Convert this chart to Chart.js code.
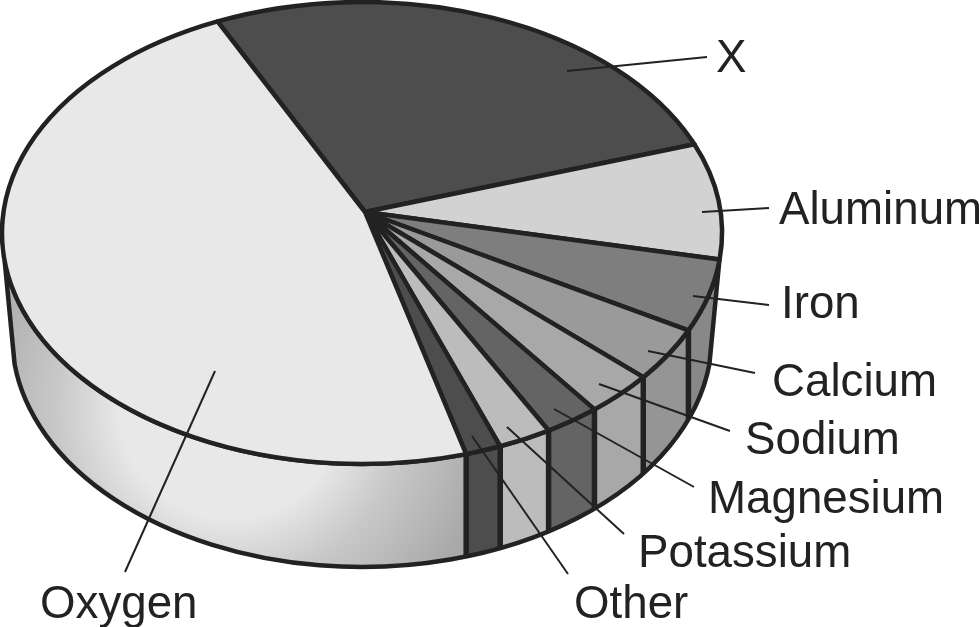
<!DOCTYPE html>
<html>
<head>
<meta charset="utf-8">
<style>
  html, body { margin: 0; padding: 0; background: #fff; }
  canvas { display: block; }
</style>
<script src="https://cdn.jsdelivr.net/npm/chart.js@4"></script>
</head>
<body>
<canvas id="earthChart" width="979" height="627"></canvas>
<script>
const categories = ['X', 'Aluminum', 'Iron', 'Calcium', 'Sodium', 'Magnesium', 'Potassium', 'Other', 'Oxygen'];
const shares = [25.3, 8.1, 5.1, 3.8, 3.1, 2.5, 2.4, 1.6, 48.1];
const topColors = ['#4d4d4d', '#d2d2d2', '#7e7e7e', '#9a9a9a', '#a8a8a8', '#646464', '#bcbcbc', '#4d4d4d', '#e8e8e8'];
const wallColors = ['#4d4d4d', '#d2d2d2', '#888888', '#959595', '#a8a8a8', '#646464', '#bcbcbc', '#4d4d4d', '#e8e8e8'];

// where each label sits, and the leader line running into its slice
const labelPos = [[716, 72], [779, 224], [781, 318], [772, 396], [745, 454], [708, 513], [638, 567], [574, 618], [40, 618]];
const leaders = [
  [567, 71, 707, 57], [702, 212, 769, 208], [693, 296, 769, 305],
  [648, 351, 755, 373], [599, 384, 730, 431], [554, 409, 694, 487],
  [507, 427, 624, 534], [472, 436, 568, 574], [215, 371, 125, 572]
];

const ink = '#222222';
const top3d = { x: 362, y: 233, rx: 360, ry: 231 };
const bottom3d = { x: 362, y: 336, rx: 350, ry: 231 };
const apex = { x: 365, y: 212 };
const wallFrom = 97 * Math.PI / 180 - Math.PI / 2; // silhouette edge, right
const wallTo = 263 * Math.PI / 180 - Math.PI / 2;  // silhouette edge, left

function onEllipse(e, a) {
  return { x: e.x + e.rx * Math.cos(a), y: e.y + e.ry * Math.sin(a) };
}

function bottomYAt(x) {
  const k = (x - bottom3d.x) / bottom3d.rx;
  return bottom3d.y + bottom3d.ry * Math.sqrt(Math.max(0, 1 - k * k));
}

function wallPath(ctx) {
  const a = onEllipse(top3d, wallFrom);
  const b = onEllipse(bottom3d, wallFrom);
  ctx.beginPath();
  ctx.moveTo(a.x, a.y);
  ctx.lineTo(b.x, b.y);
  ctx.ellipse(bottom3d.x, bottom3d.y, bottom3d.rx, bottom3d.ry, 0, wallFrom, wallTo);
  ctx.ellipse(top3d.x, top3d.y, top3d.rx, top3d.ry, 0, wallTo, wallFrom, true);
  ctx.closePath();
}

const pie3d = {
  id: 'pie3d',
  beforeDatasetsDraw(chart) {
    const ctx = chart.ctx;
    const arcs = chart.getDatasetMeta(0).data;
    ctx.save();

    // side wall, one column per slice between the vertical dividers
    ctx.save();
    wallPath(ctx);
    ctx.clip();
    arcs.forEach((arc, i) => {
      if (categories[i] === 'Oxygen') {
        const edge = onEllipse(top3d, arc.startAngle).x;
        const g = ctx.createRadialGradient(230, 408, 0, 230, 408, 290);
        g.addColorStop(0, '#e8e8e8');
        g.addColorStop(0.38, '#e8e8e8');
        g.addColorStop(0.6, '#c8c8c8');
        g.addColorStop(0.9, '#aaaaaa');
        g.addColorStop(1, '#a6a6a6');
        ctx.fillStyle = g;
        ctx.fillRect(0, 200, edge, 427);
      } else if (arc.endAngle > wallFrom) {
        const x0 = onEllipse(top3d, Math.max(arc.startAngle, wallFrom)).x;
        const x1 = onEllipse(top3d, arc.endAngle).x;
        ctx.fillStyle = wallColors[i];
        ctx.fillRect(x1, 200, x0 - x1, 427);
      }
    });
    ctx.restore();

    ctx.strokeStyle = ink;
    ctx.lineWidth = 5.5;
    arcs.forEach((arc) => {
      if (arc.startAngle <= wallFrom || arc.startAngle >= wallTo) return;
      const p = onEllipse(top3d, arc.startAngle);
      ctx.beginPath();
      ctx.moveTo(p.x, p.y);
      ctx.lineTo(p.x, bottomYAt(p.x));
      ctx.stroke();
    });
    ctx.lineWidth = 4.5;
    wallPath(ctx);
    ctx.stroke();

    // top face
    ctx.lineJoin = 'round';
    arcs.forEach((arc, i) => {
      const p = onEllipse(top3d, arc.startAngle);
      ctx.beginPath();
      ctx.moveTo(apex.x, apex.y);
      ctx.lineTo(p.x, p.y);
      ctx.ellipse(top3d.x, top3d.y, top3d.rx, top3d.ry, 0, arc.startAngle, arc.endAngle);
      ctx.closePath();
      ctx.fillStyle = topColors[i];
      ctx.fill();
      ctx.strokeStyle = ink;
      ctx.lineWidth = 4.5;
      ctx.stroke();
    });

    ctx.restore();
    return false;
  },
  afterDraw(chart) {
    const ctx = chart.ctx;
    ctx.save();
    ctx.strokeStyle = ink;
    ctx.lineWidth = 2;
    leaders.forEach((l) => {
      ctx.beginPath();
      ctx.moveTo(l[0], l[1]);
      ctx.lineTo(l[2], l[3]);
      ctx.stroke();
    });
    ctx.fillStyle = ink;
    ctx.font = '45.7px "Liberation Sans"';
    ctx.textBaseline = 'alphabetic';
    categories.forEach((name, i) => {
      ctx.fillText(name, labelPos[i][0], labelPos[i][1]);
    });
    ctx.restore();
  }
};

const earthChart = new Chart(document.getElementById('earthChart'), {
  type: 'pie',
  data: {
    labels: categories,
    datasets: [{
      data: shares,
      backgroundColor: topColors,
      borderColor: ink,
      borderWidth: 4
    }]
  },
  options: {
    responsive: false,
    animation: false,
    rotation: -23.66,
    plugins: {
      legend: { display: false },
      tooltip: { enabled: false },
      title: { display: false }
    }
  },
  plugins: [pie3d]
});
</script>
</body>
</html>
